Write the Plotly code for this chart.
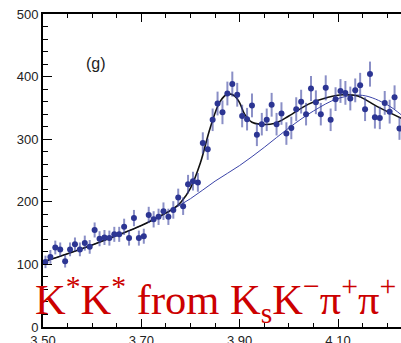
import plotly.graph_objects as go

# --- data ---
mass = [3.505, 3.515, 3.525, 3.535, 3.545, 3.555, 3.565, 3.575, 3.585, 3.595,
        3.605, 3.615, 3.625, 3.635, 3.645, 3.655, 3.665, 3.675, 3.685, 3.695,
        3.705, 3.715, 3.725, 3.735, 3.745, 3.755, 3.765, 3.775, 3.785, 3.795,
        3.805, 3.815, 3.825, 3.835, 3.845, 3.855, 3.865, 3.875, 3.885, 3.895,
        3.905, 3.915, 3.925, 3.935, 3.945, 3.955, 3.965, 3.975, 3.985, 3.995,
        4.005, 4.015, 4.025, 4.035, 4.045, 4.055, 4.065, 4.075, 4.085, 4.095,
        4.105, 4.115, 4.125, 4.135, 4.145, 4.155, 4.165, 4.175, 4.185, 4.195,
        4.205, 4.215, 4.225]
counts = [104, 112, 127, 124, 105, 124, 132, 124, 134, 128,
          155, 141, 143, 142, 148, 148, 160, 142, 174, 142,
          145, 179, 172, 176, 185, 176, 187, 207, 193, 228,
          233, 231, 294, 284, 331, 357, 343, 373, 388, 371,
          337, 332, 354, 307, 324, 331, 355, 324, 341, 309,
          318, 348, 360, 340, 381, 359, 340, 382, 331, 364,
          377, 374, 365, 378, 386, 348, 404, 335, 334, 358,
          344, 367, 317]
errors = [10, 11, 11, 11, 10, 11, 11, 11, 12, 11,
          12, 12, 12, 12, 12, 12, 13, 12, 13, 12,
          12, 13, 13, 13, 14, 13, 14, 14, 14, 15,
          15, 15, 17, 17, 18, 19, 19, 19, 20, 19,
          18, 18, 19, 18, 18, 18, 19, 18, 18, 18,
          18, 19, 19, 18, 20, 19, 18, 20, 18, 19,
          19, 19, 19, 19, 20, 19, 20, 18, 18, 19,
          19, 19, 18]

bkg_x = [3.50, 3.55, 3.60, 3.65, 3.70, 3.75, 3.80, 3.85, 3.90, 3.95, 4.00, 4.05, 4.10, 4.15, 4.20, 4.23]
bkg_y = [104, 117, 131, 146, 162, 182, 205, 233, 258, 287, 318, 345, 365, 370, 355, 338]

fit_x = [3.50, 3.55, 3.60, 3.65, 3.70, 3.75, 3.765, 3.78, 3.80, 3.82, 3.84, 3.86, 3.875,
         3.89, 3.90, 3.91, 3.925, 3.94, 3.97, 4.00, 4.04, 4.08, 4.11, 4.14, 4.18, 4.23]
fit_y = [104, 117, 131, 146, 162, 182, 189, 199, 222, 262, 318, 360, 372,
         369, 358, 340, 327, 324, 325, 337, 356, 367, 371, 369, 352, 333]

label_g = "(g)"
title_txt = "K<sup>*</sup>K<sup>*</sup> from K<sub>s</sub>K<sup>\u2212</sup>\u03c0<sup>+</sup>\u03c0<sup>+</sup>"

W, H = 401, 343
L, T, B = 43, 14, 16
x0 = 3.50
px_per_gev = 491.7
x1 = x0 + (W - L) / px_per_gev
PH = H - B - T

fig = go.Figure()
fig.add_trace(go.Scatter(x=bkg_x, y=bkg_y, mode="lines", line=dict(color="#3b44a8", width=1, shape="spline"),
                         hoverinfo="skip"))
fig.add_trace(go.Scatter(x=fit_x, y=fit_y, mode="lines", line=dict(color="#111111", width=1.6, shape="spline"),
                         hoverinfo="skip"))
fig.add_trace(go.Scatter(x=mass, y=counts, mode="markers",
                         marker=dict(color="#2c3593", size=6),
                         error_y=dict(type="data", array=errors, visible=True, color="rgba(60,68,160,0.6)",
                                      thickness=2, width=0)))

axis_font = dict(family="Liberation Sans, Arial, sans-serif", size=13, color="#222222")
fig.update_layout(
    width=W, height=H,
    margin=dict(l=L, r=0, t=T, b=B, pad=0, autoexpand=False),
    paper_bgcolor="white", plot_bgcolor="white",
    showlegend=False,
    xaxis=dict(range=[x0, x1], tick0=3.5, dtick=0.2, tickformat=".2f", ticks="inside", ticklen=8,
               tickwidth=1, tickcolor="black", showline=True, linecolor="black", linewidth=2,
               mirror="ticks", showgrid=False, zeroline=False, tickfont=axis_font, automargin=False,
               minor=dict(tick0=3.5, dtick=0.05, ticks="inside", ticklen=4, tickcolor="black", showgrid=False)),
    yaxis=dict(range=[0, 500], dtick=100, ticks="inside", ticklen=9, tickwidth=1, tickcolor="black",
               showline=True, linecolor="black", linewidth=2, mirror=False, showgrid=False,
               zeroline=False, tickfont=axis_font, automargin=False,
               minor=dict(dtick=20, ticks="inside", ticklen=5, tickcolor="black", showgrid=False)),
    annotations=[
        dict(text=label_g, xref="paper", yref="paper", x=(96 - L) / (W - L), y=(H - B - 63) / PH,
             xanchor="center", yanchor="middle", showarrow=False,
             font=dict(family="Liberation Sans, Arial, sans-serif", size=16, color="#222222")),
        dict(text=title_txt, xref="paper", yref="paper", x=(33 - L) / (W - L), y=(H - B - 331) / PH,
             xanchor="left", yanchor="bottom", showarrow=False,
             font=dict(family="Liberation Serif, Times New Roman, serif", size=42.5, color="#cc0000")),
    ],
)

fig.write_html("out.html")
